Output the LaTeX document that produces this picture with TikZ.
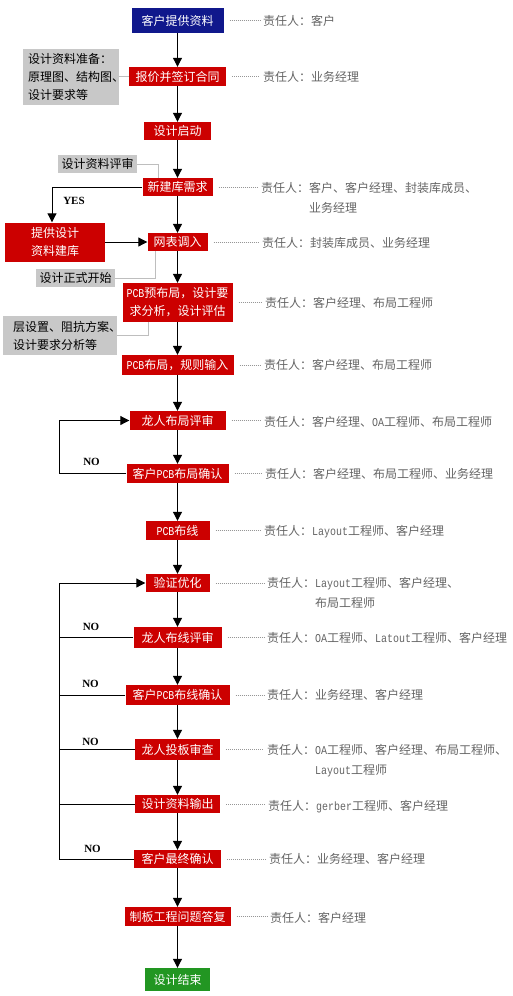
\documentclass[tikz,border=0pt]{standalone}
\usepackage{fontspec}
\setmainfont{Noto Sans CJK SC}
\newfontfamily\latinfont[FakeStretch=0.83]{Liberation Mono}
\newfontfamily\yesnofont{Liberation Serif}
\usepackage{xcolor}
\usepackage{tikz}
\usetikzlibrary{arrows.meta, positioning, calc}
\definecolor{myblue}{RGB}{16,24,140}
\definecolor{myred}{RGB}{204,0,0}
\definecolor{mygreen}{RGB}{34,150,34}
\definecolor{mygray}{RGB}{200,200,200}
\definecolor{mygrayline}{RGB}{190,190,190}
\definecolor{mydot}{RGB}{150,150,150}
\definecolor{mytext}{RGB}{100,100,100}
\newcommand{\entxt}[1]{{\latinfont #1}}
\newcommand{\resptwo}[2]{\begin{tabular}[t]{@{}l@{}l@{}}责任人：&#1\\&#2\end{tabular}}
\tikzset{
  block/.style={rectangle, fill=myred, text=white, inner sep=0pt,
    align=center, font=\fontsize{12}{18}\selectfont},
  boxsize/.style 2 args={minimum width=#1pt, minimum height=#2pt},
  notebox/.style={rectangle, fill=mygray, text=black, inner sep=0pt,
    font=\fontsize{12}{18}\selectfont},
  resp/.style={anchor=base west, inner sep=0pt, text=mytext,
    font=\fontsize{12}{20}\selectfont},
  yesno/.style={inner sep=0pt, font=\fontsize{11}{11}\yesnofont\bfseries},
  arrow/.style={-{Triangle[width=9pt,length=9pt]}, line width=1pt, color=black},
  line/.style={line width=1pt, color=black},
  greyline/.style={line width=1pt, color=mygrayline},
  dotline/.style={line width=0.8pt, color=mydot, dash pattern=on 1pt off 1pt}
}

\begin{document}
\begin{tikzpicture}[x=1pt, y=-1pt]
  \useasboundingbox (0,0) rectangle (512,996);

  % main column
  \node[block, fill=myblue, boxsize={92}{25}] (n1) at (177.5,20.5) {客户提供资料};
  \node[block, boxsize={97}{19}] (n2) at (177.5,76.5) {报价并签订合同};
  \node[block, boxsize={67}{18}] (n3) at (177.5,131) {设计启动};
  \node[block, boxsize={70}{18}] (n4) at (177.5,187) {新建库需求};
  \node[block, boxsize={60}{18}] (n5) at (177.5,242) {网表调入};
  \node[block, boxsize={110}{39}] (n6) at (177.5,302.5)
    {\entxt{PCB}预布局，设计要\\求分析，设计评估};
  \node[block, boxsize={112}{20}] (n7) at (177.5,365) {\entxt{PCB}布局，规则输入};
  \node[block, boxsize={96}{19}] (n8) at (177.5,420.5) {龙人布局评审};
  \node[block, boxsize={102}{19}] (n9) at (177.5,473.5) {客户\entxt{PCB}布局确认};
  \node[block, boxsize={64}{19}] (n10) at (177.5,530.5) {\entxt{PCB}布线};
  \node[block, boxsize={64}{18}] (n11) at (177.5,583) {验证优化};
  \node[block, boxsize={88}{21}] (n12) at (177.5,637.5) {龙人布线评审};
  \node[block, boxsize={104}{20}] (n13) at (177.5,695) {客户\entxt{PCB}布线确认};
  \node[block, boxsize={85}{21}] (n14) at (177.5,749.5) {龙人投板审查};
  \node[block, boxsize={85}{18}] (n15) at (177.5,804) {设计资料输出};
  \node[block, boxsize={87}{18}] (n16) at (177.5,859) {客户最终确认};
  \node[block, boxsize={106}{19}] (n17) at (177.5,916.5) {制板工程问题答复};
  \node[block, fill=mygreen, boxsize={65}{23}] (n18) at (177.5,979.5) {设计结束};

  \foreach \a/\b in {n1/n2, n2/n3, n3/n4, n4/n5, n5/n6, n6/n7, n7/n8, n8/n9,
    n9/n10, n10/n11, n11/n12, n12/n13, n13/n14, n14/n15, n15/n16, n16/n17, n17/n18}
    \draw[arrow] (\a) -- (\b);

  % side notes
  \node[notebox, align=left, text width=86pt, inner xsep=5pt, minimum height=56pt]
    (g1) at (71,76.5) {设计资料准备：\\原理图、结构图、\\设计要求等};
  \node[notebox, boxsize={79}{18}] (g2) at (97.5,164) {设计资料评审};
  \node[notebox, boxsize={79}{18}] (g3) at (75.5,278) {设计正式开始};
  \node[notebox, align=left, text width=94pt, inner xsep=10pt, minimum height=39pt]
    (g4) at (60,335.5) {层设置、阻抗方案、\\设计要求分析等};

  \draw[greyline] (g1) -- (n2);
  \draw[greyline] (g2.east) -| ([xshift=-19.5pt]n4.north);
  \draw[greyline] ([xshift=-22.5pt]n5.south) |- (g3.east);
  \draw[greyline] (g4.east) -| ([xshift=-29.5pt]n6.south);

  % library branch
  \node[block, boxsize={100}{39}] (lib) at (55,242) {提供设计\\资料建库};
  \draw[arrow] (n4.west) -| ([xshift=-3pt]lib.north);
  \draw[arrow] (lib) -- (n5);
  \node[yesno] (yes) at (74,201) {YES};

  % review loops
  \coordinate (loopx) at (59,0);
  \draw[arrow] (n9.west) -- (n9.west -| loopx) |- (n8.west);
  \draw[arrow] (n16.west) -- (n16.west -| loopx) |- (n11.west);
  \foreach \b in {n12, n13, n14, n15}
    \draw[line] (\b.west) -- (\b.west -| loopx);
  \node[yesno] (no1) at (91.5,462) {NO};
  \node[yesno] (no2) at (91,627) {NO};
  \node[yesno] (no3) at (90.5,684) {NO};
  \node[yesno] (no4) at (90.5,742) {NO};
  \node[yesno] (no5) at (92.5,849) {NO};

  % responsibilities
  \node[resp] (r1) at (263,25) {责任人：客户};
  \node[resp] (r2) at (263,81) {责任人：业务经理};
  \node[resp] (r4) at (261,192) {\resptwo{客户、客户经理、封装库成员、}{业务经理}};
  \node[resp] (r5) at (262,247) {责任人：封装库成员、业务经理};
  \node[resp] (r6) at (265,307.5) {责任人：客户经理、布局工程师};
  \node[resp] (r7) at (264,369) {责任人：客户经理、布局工程师};
  \node[resp] (r8) at (264,426) {责任人：客户经理、\entxt{OA}工程师、布局工程师};
  \node[resp] (r9) at (265,478.5) {责任人：客户经理、布局工程师、业务经理};
  \node[resp] (r10) at (264,535) {责任人：\entxt{Layout}工程师、客户经理};
  \node[resp] (r11) at (267,587.5) {\resptwo{\entxt{Layout}工程师、客户经理、}{布局工程师}};
  \node[resp] (r12) at (267,642) {责任人：\entxt{OA}工程师、\entxt{Latout}工程师、客户经理};
  \node[resp] (r13) at (267,699.5) {责任人：业务经理、客户经理};
  \node[resp] (r14) at (267,754.5) {\resptwo{\entxt{OA}工程师、客户经理、布局工程师、}{\entxt{Layout}工程师}};
  \node[resp] (r15) at (268,810) {责任人：\entxt{gerber}工程师、客户经理};
  \node[resp] (r16) at (269,863.5) {责任人：业务经理、客户经理};
  \node[resp] (r17) at (270,922) {责任人：客户经理};

  \foreach \b/\r in {n1/r1, n2/r2, n4/r4, n5/r5, n6/r6, n7/r7, n8/r8, n9/r9,
    n10/r10, n11/r11, n12/r12, n13/r13, n14/r14, n15/r15, n16/r16, n17/r17}
    \draw[dotline] ([xshift=6pt]\b.east) -- ([xshift=-3pt]\b.east -| \r.west);
\end{tikzpicture}
\end{document}
